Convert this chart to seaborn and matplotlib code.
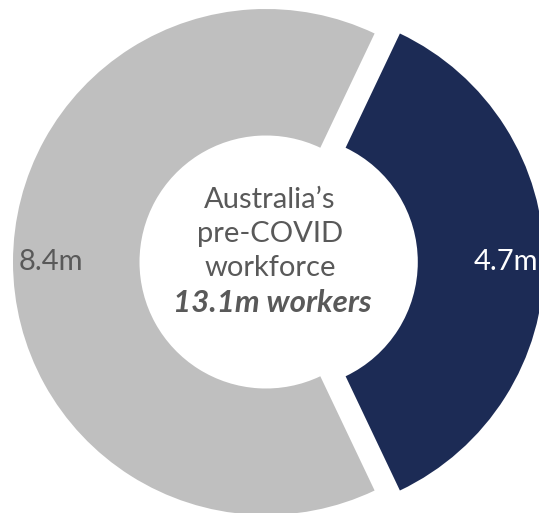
import numpy as np
import matplotlib
matplotlib.use("Agg")
import matplotlib.pyplot as plt
import seaborn as sns

categories = ["Segment A", "Segment B"]
values = [4.7, 8.4]
value_labels = ["4.7m", "8.4m"]
colors = ["#1C2B55", "#BFBFBF"]
center_lines = ["Australia\u2019s", "pre-COVID", "workforce"]
center_total = "13.1m workers"

sns.set_theme(style="white")
plt.rcParams['font.family'] = ['Lato', 'DejaVu Sans']

W, H = 539, 513
fig = plt.figure(figsize=(W / 100, H / 100), dpi=100)
ax = fig.add_axes([0, 0, 1, 1])
ax.set_axis_off()

R = 253.0
cx, cy = 266.0, 262.0  # pixels from left / top

start = -values[0] / sum(values) * 360 / 2
wedges, texts = ax.pie(values, colors=colors, startangle=start, counterclock=True,
                       explode=[0.1, 0.0], radius=1.0,
                       wedgeprops=dict(width=0.5, linewidth=0),
                       labels=value_labels, labeldistance=0.85,
                       textprops=dict(fontsize=21))
ax.set_xlim(-cx / R, (W - cx) / R)
ax.set_ylim(-(H - cy) / R, cy / R)
ax.set_aspect('equal')
texts[0].set_color("white")
texts[1].set_color("#595959")
for t in texts:
    t.set_ha("center")
    t.set_va("center")

tc = "#595959"
ys = [200, 234, 268]
for line, y in zip(center_lines, ys):
    fig.text(270 / W, 1 - y / H, line, ha="center", va="center", fontsize=21, color=tc)
fig.text(272 / W, 1 - 303 / H, center_total, ha="center", va="center", fontsize=22.5,
         color=tc, fontweight="bold", fontstyle="italic")

fig.savefig("out.png", dpi=100)
